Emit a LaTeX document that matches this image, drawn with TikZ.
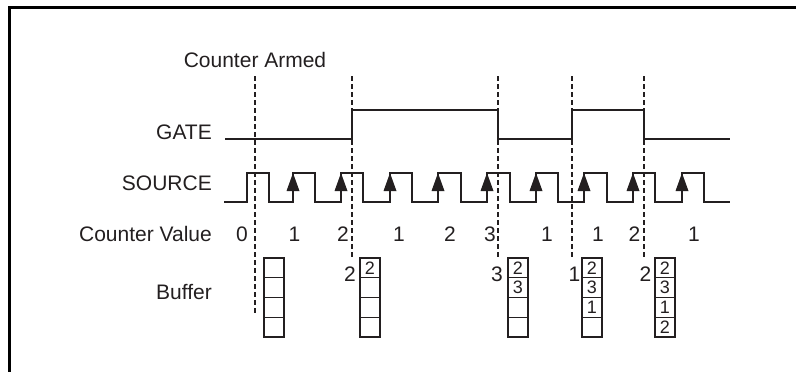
\documentclass[tikz,border=0pt]{standalone}
\usepackage{fontspec}
\setmainfont{Liberation Sans}
\definecolor{ink}{RGB}{35,31,32}
\tikzset{
  lab/.style={font=\fontsize{21}{25}\selectfont, inner sep=0pt, text=ink},
  cell/.style={draw=ink, line width=1.2pt, minimum width=20pt, minimum height=19.75pt, inner sep=0pt, font=\fontsize{18}{20}\selectfont, text=ink},
  wave/.style={draw=ink, line width=1.2pt, line join=miter},
  marker/.style={draw=ink, line width=1.2pt, dash pattern=on 5pt off 3pt},
  edgearrow/.style={fill=ink},
  frameline/.style={draw=black, line width=2.7pt, line join=miter}
}
\begin{document}
\begin{tikzpicture}[x=1pt, y=-1pt]
\useasboundingbox (0,0) rectangle (796,372);
% frame
\draw[frameline] (9.3,372) -- (9.3,7.5) -- (796,7.5);
% labels
\node[lab] (armed) at (255,60) {Counter Armed};
\node[lab, anchor=east] (gate) at (212,132) {GATE};
\node[lab, anchor=east] (source) at (212,183.7) {SOURCE};
\node[lab, anchor=east] (cval) at (212,234) {Counter Value};
\node[lab, anchor=east] (buffer) at (212,292) {Buffer};
% marker lines
\coordinate (m1t) at (255,76);  \coordinate (m1b) at (255,315);
\coordinate (m2t) at (352,76);  \coordinate (m2b) at (352,258);
\coordinate (m3t) at (498,76);  \coordinate (m3b) at (498,258);
\coordinate (m4t) at (572,76);  \coordinate (m4b) at (572,258);
\coordinate (m5t) at (644,76);  \coordinate (m5b) at (644,258);
\draw[marker] (m1t) -- (m1b);
\draw[marker] (m2t) -- (m2b);
\draw[marker] (m3t) -- (m3b);
\draw[marker] (m4t) -- (m4b);
\draw[marker] (m5t) -- (m5b);
% GATE waveform
\draw[wave] (225,139) -| (352,110) -| (498,139) -| (572,110) -| (644,139) -- (730,139);
% SOURCE waveform
\draw[wave] (224,202) -| (247,173) -| (269,202) -| (293,173) -| (315,202) -| (341,173) -| (363,202)
  -| (390,173) -| (412,202) -| (438,173) -| (461,202) -| (487,173) -| (510,202) -| (536,173)
  -| (558,202) -| (584,173) -| (607,202) -| (633,173) -| (655,202) -| (682,173) -| (704,202) -- (730,202);
\foreach \x in {293,341,390,438,487,536,584,633,682}
  \fill[edgearrow] (\x,173) -- (\x-6.5,191) -- (\x+6.5,191) -- cycle;
% counter values
\node[lab] (c0) at (242,234) {0};
\node[lab] (c1) at (294.5,234) {1};
\node[lab] (c2) at (343,234) {2};
\node[lab] (c3) at (399,234) {1};
\node[lab] (c4) at (450,234) {2};
\node[lab] (c5) at (490,234) {3};
\node[lab] (c6) at (547,234) {1};
\node[lab] (c7) at (598,234) {1};
\node[lab] (c8) at (634.5,234) {2};
\node[lab] (c9) at (694,234) {1};
% buffers
\node[cell] (a1) at (274,267.875) {};
\node[cell] (a2) at (274,287.625) {};
\node[cell] (a3) at (274,307.375) {};
\node[cell] (a4) at (274,327.125) {};
\node[cell] (b1) at (370,267.875) {2};
\node[cell] (b2) at (370,287.625) {};
\node[cell] (b3) at (370,307.375) {};
\node[cell] (b4) at (370,327.125) {};
\node[cell] (d1) at (518,267.875) {2};
\node[cell] (d2) at (518,287.625) {3};
\node[cell] (d3) at (518,307.375) {};
\node[cell] (d4) at (518,327.125) {};
\node[cell] (e1) at (592,267.875) {2};
\node[cell] (e2) at (592,287.625) {3};
\node[cell] (e3) at (592,307.375) {1};
\node[cell] (e4) at (592,327.125) {};
\node[cell] (f1) at (665,267.875) {2};
\node[cell] (f2) at (665,287.625) {3};
\node[cell] (f3) at (665,307.375) {1};
\node[cell] (f4) at (665,327.125) {2};
% latched values
\node[lab] (lb) at (350,274) {2};
\node[lab] (ld) at (497,274) {3};
\node[lab] (le) at (574.5,274) {1};
\node[lab] (lf) at (645.5,274) {2};
\end{tikzpicture}
\end{document}
